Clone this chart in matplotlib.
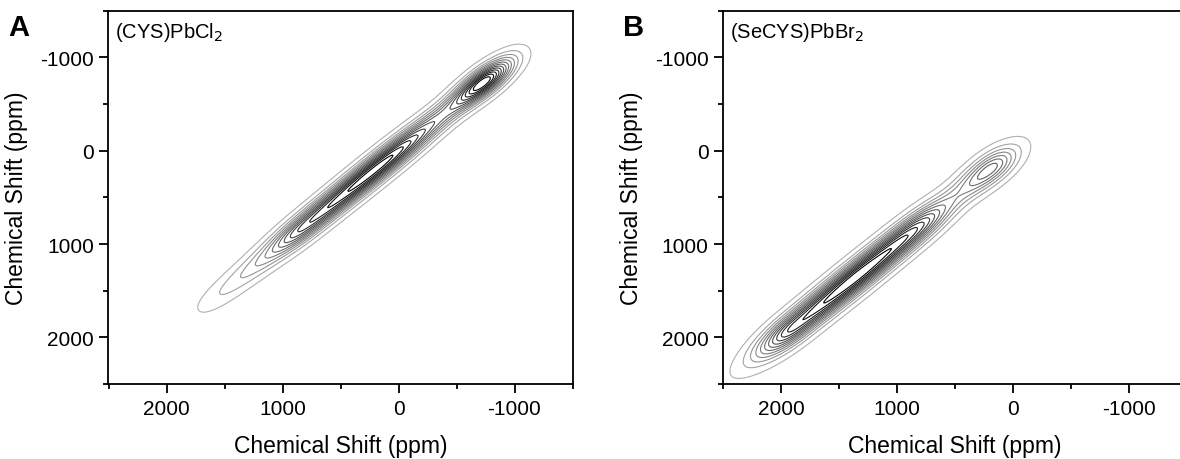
import numpy as np
import matplotlib
matplotlib.use("Agg")
import matplotlib.pyplot as plt
from matplotlib.ticker import MultipleLocator
from matplotlib.colors import LinearSegmentedColormap

plt.rcParams['font.family'] = ['Liberation Sans', 'DejaVu Sans']
plt.rcParams['axes.unicode_minus'] = False

# ---------- data: peak intensities along the diagonal (ppm) ----------
# (CYS)PbCl2
a_pos = [1650, 1500, 1350, 1200, 1050, 900, 750, 600, 450, 300, 150, 0,
         -150, -300, -450, -600, -750, -900]
a_amp = [0.05, 0.10, 0.14, 0.20, 0.32, 0.55, 0.60, 0.65, 0.70, 0.75, 0.75,
         0.70, 0.55, 0.40, 0.35, 0.60, 1.00, 0.35]
a_width = 110     # across-diagonal spread (ppm)

# (SeCYS)PbBr2
b_pos = [2400, 2250, 2100, 1950, 1800, 1650, 1500, 1350, 1200, 1050, 900,
         750, 600, 450, 300, 150, 0]
b_amp = [0.03, 0.12, 0.45, 0.85, 0.80, 0.90, 0.95, 1.00, 0.95, 0.90, 0.85,
         0.70, 0.35, 0.25, 0.50, 0.65, 0.08]
b_width = 125

along_width = 110
labels = ["(CYS)PbCl$_2$", "(SeCYS)PbBr$_2$"]
panels = ["A", "B"]

grid = np.arange(-1600, 2610, 10)
X, Y = np.meshgrid(grid, grid)


def spectrum(pos, amp, width):
    u = (X + Y) / 2.0
    d = X - Y
    Z = np.zeros_like(X, dtype=float)
    for p, a in zip(pos, amp):
        Z += a * np.exp(-(u - p) ** 2 / (2 * along_width ** 2))
    Z *= np.exp(-d ** 2 / (2 * width ** 2))
    return Z / Z.max()


levels = np.linspace(0.04, 0.92, 13)
cmap = LinearSegmentedColormap.from_list("g", ["#b0b0b0", "#606060", "#000000"])
cols = [cmap(i / (len(levels) - 1)) for i in range(len(levels))]

fig = plt.figure(figsize=(11.8, 4.6), dpi=100)
W, H = 1180.0, 460.0
axes_px = [108.5, 723.0]

for i, (pos, amp, width) in enumerate([(a_pos, a_amp, a_width),
                                       (b_pos, b_amp, b_width)]):
    left = axes_px[i]
    ax = fig.add_axes([left / W, 1 - 385 / H, 464 / W, 373.3 / H])
    Z = spectrum(pos, amp, width)
    ax.contour(X, Y, Z, levels=levels, colors=cols, linewidths=0.8)

    ax.set_xlim(2500, -1500)
    ax.set_ylim(2500, -1500)
    ax.xaxis.set_major_locator(MultipleLocator(1000))
    ax.xaxis.set_minor_locator(MultipleLocator(500))
    ax.yaxis.set_major_locator(MultipleLocator(1000))
    ax.yaxis.set_minor_locator(MultipleLocator(500))
    ax.tick_params(which="major", direction="out", length=6.5, width=1.3,
                   labelsize=15, pad=4)
    ax.tick_params(which="minor", direction="out", length=3.5, width=1.3)
    for s in ax.spines.values():
        s.set_linewidth(1.3)

    ax.set_xlabel("Chemical Shift (ppm)", fontsize=16.5)
    ax.set_ylabel("Chemical Shift (ppm)", fontsize=16.5)
    ax.xaxis.set_label_coords(0.5, -0.135)
    ax.yaxis.set_label_coords(-0.173, 0.5)

    ax.text(0.015, 0.975, labels[i], transform=ax.transAxes, fontsize=14.5,
            ha="left", va="top")
    fig.text((left - 100) / W, 1 - 36 / H, panels[i], fontsize=21,
             fontweight="bold", ha="left", va="baseline")

fig.savefig("out.png", dpi=100)
